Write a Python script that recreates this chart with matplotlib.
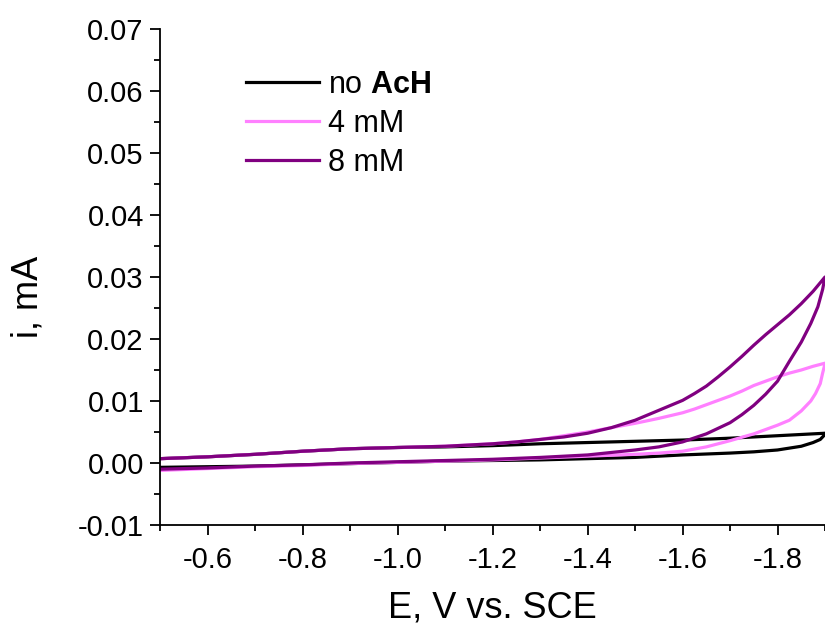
import matplotlib
matplotlib.use("Agg")
import matplotlib.pyplot as plt
from matplotlib.ticker import MultipleLocator, FormatStrFormatter

plt.rcParams['font.family'] = ['Liberation Sans', 'DejaVu Sans']
plt.rcParams['axes.unicode_minus'] = False
plt.rcParams['mathtext.fontset'] = 'custom'
plt.rcParams['mathtext.rm'] = 'Liberation Sans'
plt.rcParams['mathtext.bf'] = 'Liberation Sans:bold'

# --- data: no AcH (black) ---
E_black_fwd = [-0.5, -0.6, -0.7, -0.8, -0.9, -1.0, -1.1, -1.2, -1.3, -1.4, -1.5, -1.6, -1.7, -1.75, -1.8, -1.825, -1.85, -1.875, -1.89, -1.9]
i_black_fwd = [-0.0007, -0.0006, -0.0005, -0.0003, -0.0001, 0.0001, 0.0003, 0.0004, 0.0005, 0.0007, 0.0009, 0.0013, 0.0016, 0.0018, 0.0021, 0.0024, 0.0027, 0.0033, 0.0038, 0.0046]
E_black_rev = [-1.9, -1.8, -1.7, -1.6, -1.5, -1.4, -1.3, -1.2, -1.1, -1.0, -0.9, -0.8, -0.7, -0.6, -0.5]
i_black_rev = [0.0048, 0.0044, 0.0040, 0.0037, 0.0035, 0.0033, 0.0031, 0.0028, 0.0026, 0.0025, 0.0023, 0.0019, 0.0014, 0.0010, 0.0007]

# --- data: 4 mM (pink) ---
E_pink_fwd = [-0.5, -0.6, -0.7, -0.8, -0.9, -1.0, -1.1, -1.2, -1.3, -1.4, -1.5, -1.55, -1.6, -1.65, -1.7, -1.75, -1.8, -1.825, -1.85, -1.87, -1.88, -1.89, -1.895, -1.9]
i_pink_fwd = [-0.0012, -0.0009, -0.0006, -0.0004, -0.0001, 0.0001, 0.0003, 0.0005, 0.0008, 0.0011, 0.0014, 0.0016, 0.0019, 0.0026, 0.0036, 0.0047, 0.0061, 0.0069, 0.0084, 0.0100, 0.0112, 0.0128, 0.0145, 0.0160]
E_pink_rev = [-1.9, -1.875, -1.85, -1.825, -1.8, -1.775, -1.75, -1.725, -1.7, -1.675, -1.65, -1.625, -1.6, -1.55, -1.5, -1.45, -1.4, -1.35, -1.3, -1.25, -1.2, -1.1, -1.0, -0.9, -0.8, -0.7, -0.6, -0.5]
i_pink_rev = [0.0161, 0.0156, 0.0150, 0.0145, 0.0139, 0.0132, 0.0125, 0.0116, 0.0108, 0.0101, 0.0094, 0.0087, 0.0081, 0.0072, 0.0064, 0.0057, 0.0050, 0.0044, 0.0038, 0.0034, 0.0031, 0.0027, 0.0025, 0.0023, 0.0019, 0.0014, 0.0010, 0.0007]

# --- data: 8 mM (purple) ---
E_purple_fwd = [-0.5, -0.6, -0.7, -0.8, -0.9, -1.0, -1.1, -1.2, -1.3, -1.4, -1.45, -1.5, -1.55, -1.6, -1.65, -1.7, -1.725, -1.75, -1.775, -1.8, -1.825, -1.85, -1.87, -1.885, -1.895, -1.9]
i_purple_fwd = [-0.0010, -0.0008, -0.0005, -0.0003, 0.0000, 0.0002, 0.0004, 0.0006, 0.0009, 0.0013, 0.0017, 0.0021, 0.0026, 0.0034, 0.0047, 0.0065, 0.0078, 0.0093, 0.0111, 0.0132, 0.0164, 0.0195, 0.0225, 0.0252, 0.0280, 0.0300]
E_purple_rev = [-1.9, -1.875, -1.85, -1.825, -1.8, -1.775, -1.75, -1.725, -1.7, -1.675, -1.65, -1.625, -1.6, -1.55, -1.5, -1.45, -1.4, -1.35, -1.3, -1.25, -1.2, -1.1, -1.0, -0.9, -0.8, -0.7, -0.6, -0.5]
i_purple_rev = [0.0300, 0.0277, 0.0257, 0.0239, 0.0223, 0.0207, 0.0190, 0.0172, 0.0155, 0.0139, 0.0124, 0.0112, 0.0101, 0.0085, 0.0069, 0.0057, 0.0048, 0.0042, 0.0038, 0.0034, 0.0031, 0.0027, 0.0025, 0.0023, 0.0019, 0.0014, 0.0010, 0.0007]

labels = ['no $\\mathbf{AcH}$', '4 mM', '8 mM']
colors = ['#000000', '#FF80FF', '#800080']

fig = plt.figure(figsize=(8.25, 6.27), dpi=100)
ax = fig.add_axes([0.1945, 0.1627, 0.8055, 0.7910])

series = [
    (E_black_fwd + E_black_rev, i_black_fwd + i_black_rev),
    (E_pink_fwd + E_pink_rev, i_pink_fwd + i_pink_rev),
    (E_purple_fwd + E_purple_rev, i_purple_fwd + i_purple_rev),
]
for (E, i), lab, c in zip(series, labels, colors):
    ax.plot(E, i, color=c, lw=2.3, label=lab, solid_joinstyle='round')

ax.set_xlim(-0.5, -1.9)
ax.set_ylim(-0.01, 0.07)

ax.xaxis.set_major_locator(MultipleLocator(0.2))
ax.xaxis.set_minor_locator(MultipleLocator(0.1))
ax.yaxis.set_major_locator(MultipleLocator(0.01))
ax.yaxis.set_minor_locator(MultipleLocator(0.005))
ax.xaxis.set_major_formatter(FormatStrFormatter('%.1f'))
ax.yaxis.set_major_formatter(FormatStrFormatter('%.2f'))
ax.set_xticks([-0.6, -0.8, -1.0, -1.2, -1.4, -1.6, -1.8])

for s in ['top', 'right']:
    ax.spines[s].set_visible(False)
for s in ['left', 'bottom']:
    ax.spines[s].set_linewidth(1.3)

ax.tick_params(which='major', direction='out', length=7, width=1.3, labelsize=21)
ax.tick_params(which='minor', direction='out', length=4, width=1.3)
ax.tick_params(axis='y', pad=5)
ax.tick_params(axis='x', pad=8)

ax.set_xlabel('E, V vs. SCE', fontsize=26)
ax.set_ylabel('i, mA', fontsize=26)
ax.xaxis.set_label_coords(0.5, -0.167)
ax.xaxis.label.set_va('center')
ax.yaxis.set_label_coords(-0.2, 0.46)
ax.yaxis.label.set_va('center')

leg = ax.legend(loc='upper left', bbox_to_anchor=(0.11, 0.943), frameon=False,
                fontsize=22, handlelength=2.4, handletextpad=0.3, labelspacing=0.3,
                borderaxespad=0.0)

fig.savefig('out.png', dpi=100)
